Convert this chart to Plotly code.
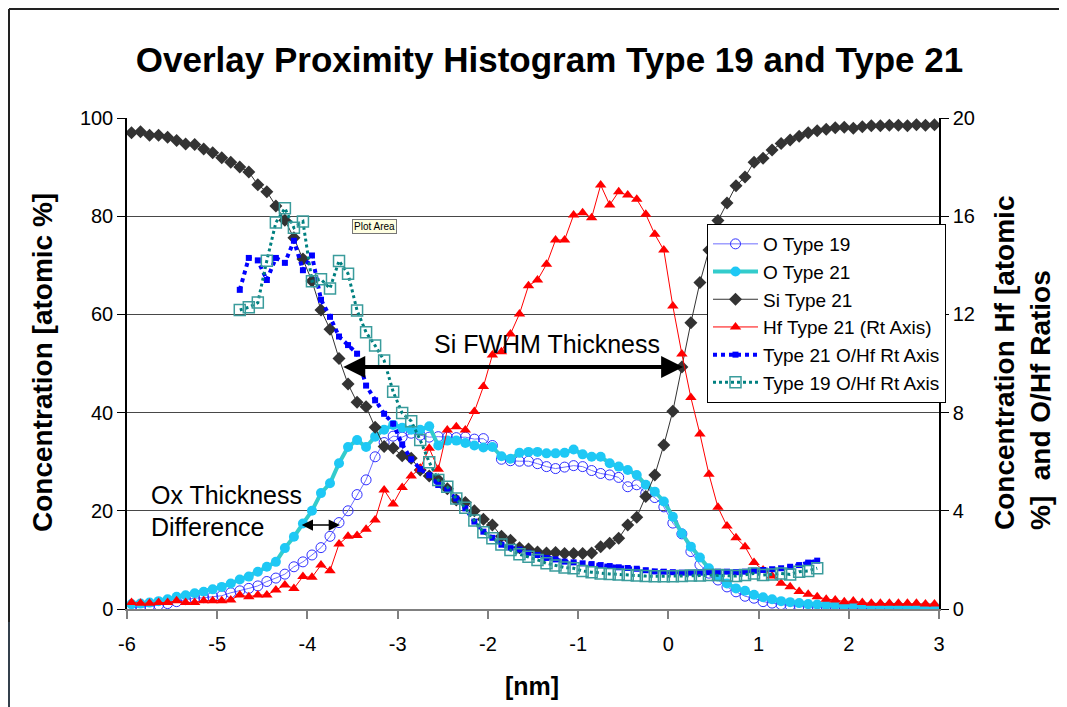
import plotly.graph_objects as go

# ---------------- data ----------------
x_nm = [round(-5.95 + 0.1 * i, 2) for i in range(90)]
x_ratio = x_nm[12:77]

o_type19 = [0.3, 0.4, 0.6, 0.8, 1.1, 1.5, 1.9, 2.2, 2.3, 2.5,
            2.7, 3.3, 3.7, 4.2, 4.7, 5.6, 6.3, 7.1, 8.6, 9.6,
            11.0, 12.5, 14.8, 17.6, 20.0, 23.3, 26.3, 31.0, 33.9, 35.2,
            35.0, 35.8, 35.4, 35.0, 35.1, 35.0, 34.9, 35.0, 34.6, 34.7,
            33.3, 30.5, 30.2, 30.1, 30.1, 29.6, 29.0, 28.6, 28.9, 29.2,
            29.0, 28.2, 27.6, 27.3, 26.8, 24.9, 25.3, 23.6, 22.7, 20.8,
            17.5, 15.3, 11.7, 9.0, 7.3, 5.9, 4.5, 3.5, 2.6, 2.2,
            1.5, 1.2, 0.9, 0.7, 0.6, 0.5, 0.4, 0.4, 0.3, 0.3,
            0.3, 0.3, 0.3, 0.2, 0.2, 0.2, 0.2, 0.2, 0.2, 0.2]

o_type21 = [1.0, 1.1, 1.3, 1.6, 2.0, 2.5, 2.8, 3.2, 3.5, 4.0,
            4.5, 5.2, 6.0, 6.6, 7.6, 8.6, 9.6, 12.4, 14.7, 17.4,
            20.0, 23.6, 25.6, 29.7, 33.0, 34.4, 33.0, 35.1, 36.5, 37.5,
            36.9, 36.5, 36.5, 37.2, 33.3, 34.3, 34.3, 33.8, 33.3, 32.9,
            33.0, 31.1, 30.6, 31.8, 32.0, 32.0, 31.7, 31.7, 31.8, 32.5,
            31.5, 31.0, 31.0, 29.7, 29.0, 28.3, 27.3, 25.3, 23.9, 21.9,
            18.8, 15.4, 12.7, 10.5, 8.3, 6.6, 5.2, 4.2, 3.7, 2.9,
            2.4, 2.0, 1.6, 1.4, 1.2, 1.0, 0.9, 0.8, 0.8, 0.7,
            0.7, 0.7, 0.6, 0.6, 0.6, 0.6, 0.5, 0.5, 0.5, 0.5]

si_type21 = [97.0, 97.2, 96.5, 96.5, 96.1, 95.4, 94.7, 94.6, 93.7, 92.9,
             91.9, 91.0, 90.0, 89.0, 86.4, 85.0, 82.1, 79.2, 75.6, 71.3,
             66.8, 60.9, 57.0, 51.0, 45.8, 42.1, 41.2, 37.0, 33.1, 32.8,
             31.2, 30.7, 28.3, 27.1, 26.3, 24.5, 22.2, 21.7, 20.0, 18.3,
             17.1, 14.8, 14.0, 12.5, 12.2, 11.6, 11.4, 11.5, 11.3, 11.3,
             11.3, 11.4, 12.7, 13.4, 14.4, 17.1, 18.7, 22.9, 27.3, 33.4,
             40.3, 49.3, 58.3, 66.5, 73.1, 79.1, 82.7, 86.2, 88.0, 91.0,
             91.8, 93.5, 94.8, 95.5, 96.3, 97.0, 97.4, 97.7, 98.0, 98.1,
             97.9, 98.2, 98.4, 98.4, 98.5, 98.5, 98.4, 98.6, 98.5, 98.6]

hf_type21 = [0.26, 0.23, 0.23, 0.26, 0.26, 0.34, 0.26, 0.26, 0.34, 0.34,
             0.34, 0.37, 0.57, 0.50, 0.57, 0.57, 0.77, 0.98, 0.84, 1.32,
             1.29, 1.79, 1.56, 2.65, 2.96, 2.99, 3.25, 3.63, 4.85, 4.28,
             4.95, 5.42, 5.73, 6.55, 5.69, 7.29, 7.42, 7.29, 8.04, 9.06,
             10.35, 10.48, 11.2, 12.02, 13.17, 13.40, 14.04, 15.03, 15.03, 16.05,
             16.14, 15.94, 17.27, 16.46, 17.0, 16.86, 16.69, 16.08, 15.26, 14.62,
             12.34, 10.39, 8.61, 7.13, 5.49, 4.14, 3.38, 2.90, 2.54, 1.89,
             1.59, 1.34, 1.05, 0.91, 0.71, 0.60, 0.50, 0.40, 0.37, 0.30,
             0.33, 0.26, 0.23, 0.23, 0.23, 0.23, 0.23, 0.23, 0.20, 0.20]

ohf_type21 = [13.0, 14.3, 14.2, 13.4, 14.3, 14.1, 15.0, 13.8, 14.4, 12.6,
              11.9, 11.1, 10.75, 10.4, 9.1, 8.5, 7.95, 7.55, 6.7, 6.1,
              5.7, 5.45, 5.05, 4.85, 4.5, 4.1, 3.56, 3.15, 2.9, 2.62,
              2.5, 2.42, 2.29, 2.2, 2.08, 2.02, 1.93, 1.9, 1.86, 1.83,
              1.79, 1.75, 1.70, 1.67, 1.64, 1.58, 1.53, 1.52, 1.50, 1.48,
              1.48, 1.48, 1.50, 1.52, 1.52, 1.50, 1.52, 1.56, 1.59, 1.62,
              1.66, 1.72, 1.79, 1.89, 1.97]

ohf_type19 = [12.18, 12.29, 12.48, 14.19, 15.74, 16.32, 15.53, 15.78, 13.35, 13.43,
              13.06, 14.18, 13.66, 12.16, 11.27, 10.73, 10.12, 8.85, 7.98, 7.65,
              6.88, 5.98, 5.25, 4.98, 4.5, 4.12, 3.6, 3.13, 2.88, 2.63,
              2.4, 2.23, 2.13, 2.0, 1.86, 1.77, 1.69, 1.66, 1.55, 1.5,
              1.45, 1.43, 1.41, 1.38, 1.36, 1.34, 1.33, 1.33, 1.33, 1.34,
              1.36, 1.36, 1.38, 1.38, 1.36, 1.34, 1.38, 1.45, 1.38, 1.41,
              1.45, 1.41, 1.52, 1.55, 1.66]

x_ticks = [-6, -5, -4, -3, -2, -1, 0, 1, 2, 3]
y_left_ticks = [0, 20, 40, 60, 80, 100]
y_right_ticks = [0, 4, 8, 12, 16, 20]

FONT = "Liberation Sans, Arial, sans-serif"

# page body has an 8px margin: figure spans viewport [8, 1067] x [8, 707]
OFF = 8
W, H = 1067 - OFF, 707 - OFF
PL, PR, PT, PB = 127, 939, 118, 609          # plot area in viewport pixels
PW, PH = PR - PL, PB - PT


def px(vx):
    return (vx - PL) / PW


def py(vy):
    return (PB - vy) / PH


fig = go.Figure()

fig.add_trace(go.Scatter(
    x=x_nm, y=o_type19, name="O Type 19", mode="lines+markers",
    line=dict(color="#6f6fff", width=1),
    marker=dict(symbol="circle-open", size=10, color="#2f2fff", line=dict(width=1)),
    legendgroup="a"))
fig.add_trace(go.Scatter(
    x=x_nm, y=o_type21, name="O Type 21", mode="lines+markers",
    line=dict(color="#33cccc", width=4),
    marker=dict(symbol="circle", size=10, color="#1ec8f5"),
    legendgroup="b"))
fig.add_trace(go.Scatter(
    x=x_nm, y=si_type21, name="Si Type 21", mode="lines+markers",
    line=dict(color="#333333", width=1),
    marker=dict(symbol="diamond", size=10, color="#333333"),
    legendgroup="c"))
fig.add_trace(go.Scatter(
    x=x_nm, y=hf_type21, name="Hf Type 21 (Rt Axis)", mode="lines+markers",
    line=dict(color="#ff0000", width=1),
    marker=dict(symbol="triangle-up", size=10, color="#ff0000"),
    yaxis="y2", legendgroup="d"))
fig.add_trace(go.Scatter(
    x=x_ratio, y=ohf_type21, name="Type 21 O/Hf Rt Axis", mode="lines+markers",
    line=dict(color="#0000ff", width=4, dash="dot"),
    marker=dict(symbol="square", size=6, color="#0000ff"),
    yaxis="y2", legendgroup="e"))
fig.add_trace(go.Scatter(
    x=x_ratio, y=ohf_type19, name="Type 19 O/Hf Rt Axis", mode="lines+markers",
    line=dict(color="#008080", width=3, dash="dot"),
    marker=dict(symbol="square-open", size=11, color="#3a9c9c", line=dict(width=1.5)),
    yaxis="y2", legendgroup="f"))

annotations = [
    dict(x=0.164, y=49.3, ax=-3.62, ay=49.3, xref="x", yref="y", axref="x", ayref="y",
         text="", showarrow=True, arrowhead=2, arrowside="end+start",
         arrowwidth=4, arrowsize=1.1, arrowcolor="#000000"),
    dict(x=-3.64, y=17.1, ax=-4.08, ay=17.1, xref="x", yref="y", axref="x", ayref="y",
         text="", showarrow=True, arrowhead=2, arrowside="end+start",
         arrowwidth=1.5, arrowsize=1.5, arrowcolor="#000000"),
    dict(x=-1.343, y=54.0, xref="x", yref="y", text="Si FWHM Thickness",
         showarrow=False, font=dict(family=FONT, size=25, color="#000000")),
    dict(x=-5.751, y=23.2, xref="x", yref="y", text="Ox Thickness", xanchor="left",
         showarrow=False, font=dict(family=FONT, size=25, color="#000000")),
    dict(x=-5.751, y=16.7, xref="x", yref="y", text="Difference", xanchor="left",
         showarrow=False, font=dict(family=FONT, size=25, color="#000000")),
    dict(x=-3.254, y=78.0, xref="x", yref="y", text="Plot Area",
         showarrow=False, font=dict(family=FONT, size=10, color="#000000"),
         bgcolor="#ffffe1", bordercolor="#767676", borderwidth=1, borderpad=1),
    dict(x=px(42), y=py(363), xref="paper", yref="paper",
         text="<b>Concentration [atomic %]</b>", xanchor="center", yanchor="middle",
         textangle=-90, showarrow=False, font=dict(family=FONT, size=28, color="#000000")),
    dict(x=px(1022), y=py(363), xref="paper", yref="paper",
         text="<b>Concentration Hf [atomic<br>%]  and O/Hf Ratios</b>", align="left",
         xanchor="center", yanchor="middle",
         textangle=-90, showarrow=False, font=dict(family=FONT, size=28, color="#000000")),
    dict(x=px(532), y=py(686), xref="paper", yref="paper", text="<b>[nm]</b>",
         xanchor="center", yanchor="middle",
         showarrow=False, font=dict(family=FONT, size=25, color="#000000")),
]

shapes = [
    dict(type="line", xref="paper", yref="paper", x0=px(OFF + 1), x1=px(1067),
         y0=py(OFF + 1), y1=py(OFF + 1), line=dict(color="#222222", width=2)),
    dict(type="line", xref="paper", yref="paper", x0=px(OFF + 1), x1=px(OFF + 1),
         y0=py(OFF + 1), y1=py(622), line=dict(color="#222222", width=2)),
    dict(type="rect", xref="paper", yref="paper", x0=px(OFF), x1=px(OFF + 2),
         y0=py(622), y1=py(707), fillcolor="#34404c", line=dict(width=0)),
]

fig.update_layout(
    width=W, height=H,
    margin=dict(l=PL - OFF, r=1067 - PR, t=PT - OFF, b=707 - PB),
    paper_bgcolor="#ffffff", plot_bgcolor="#ffffff",
    font=dict(family=FONT, color="#000000"),
    title=dict(text="<b>Overlay Proximity Histogram Type 19 and Type 21</b>",
               x=(549.5 - OFF) / W, y=1 - (60 - OFF) / H, xref="container", yref="container",
               xanchor="center", yanchor="middle",
               font=dict(family=FONT, size=35, color="#000000")),
    xaxis=dict(range=[-6, 3], tickvals=x_ticks, ticktext=[str(v) for v in x_ticks],
               showgrid=False, zeroline=False, showline=True, linecolor="#808080", linewidth=2,
               ticks="outside", ticklen=8, tickcolor="#808080", tickwidth=1.5,
               ticklabelstandoff=8,
               tickfont=dict(family=FONT, size=20, color="#000000")),
    yaxis=dict(range=[0, 100], tickvals=y_left_ticks, showgrid=True, gridcolor="#484848",
               gridwidth=1.4, zeroline=False, showline=True, linecolor="#000000", linewidth=1.5,
               ticks="outside", ticklen=8, tickcolor="#000000",
               tickfont=dict(family=FONT, size=20, color="#000000")),
    yaxis2=dict(range=[0, 20], tickvals=y_right_ticks, overlaying="y", side="right",
                showgrid=False, zeroline=False, showline=True, linecolor="#000000", linewidth=1.5,
                ticks="outside", ticklen=8, tickcolor="#000000",
                tickfont=dict(family=FONT, size=20, color="#000000")),
    legend=dict(x=px(707), y=py(224), xanchor="left", yanchor="top",
                bgcolor="#ffffff", bordercolor="#000000", borderwidth=1,
                font=dict(family=FONT, size=19, color="#000000"),
                traceorder="grouped", tracegroupgap=0, itemwidth=45),
    annotations=annotations,
    shapes=shapes,
    showlegend=True,
)

fig.write_html("out.html")
